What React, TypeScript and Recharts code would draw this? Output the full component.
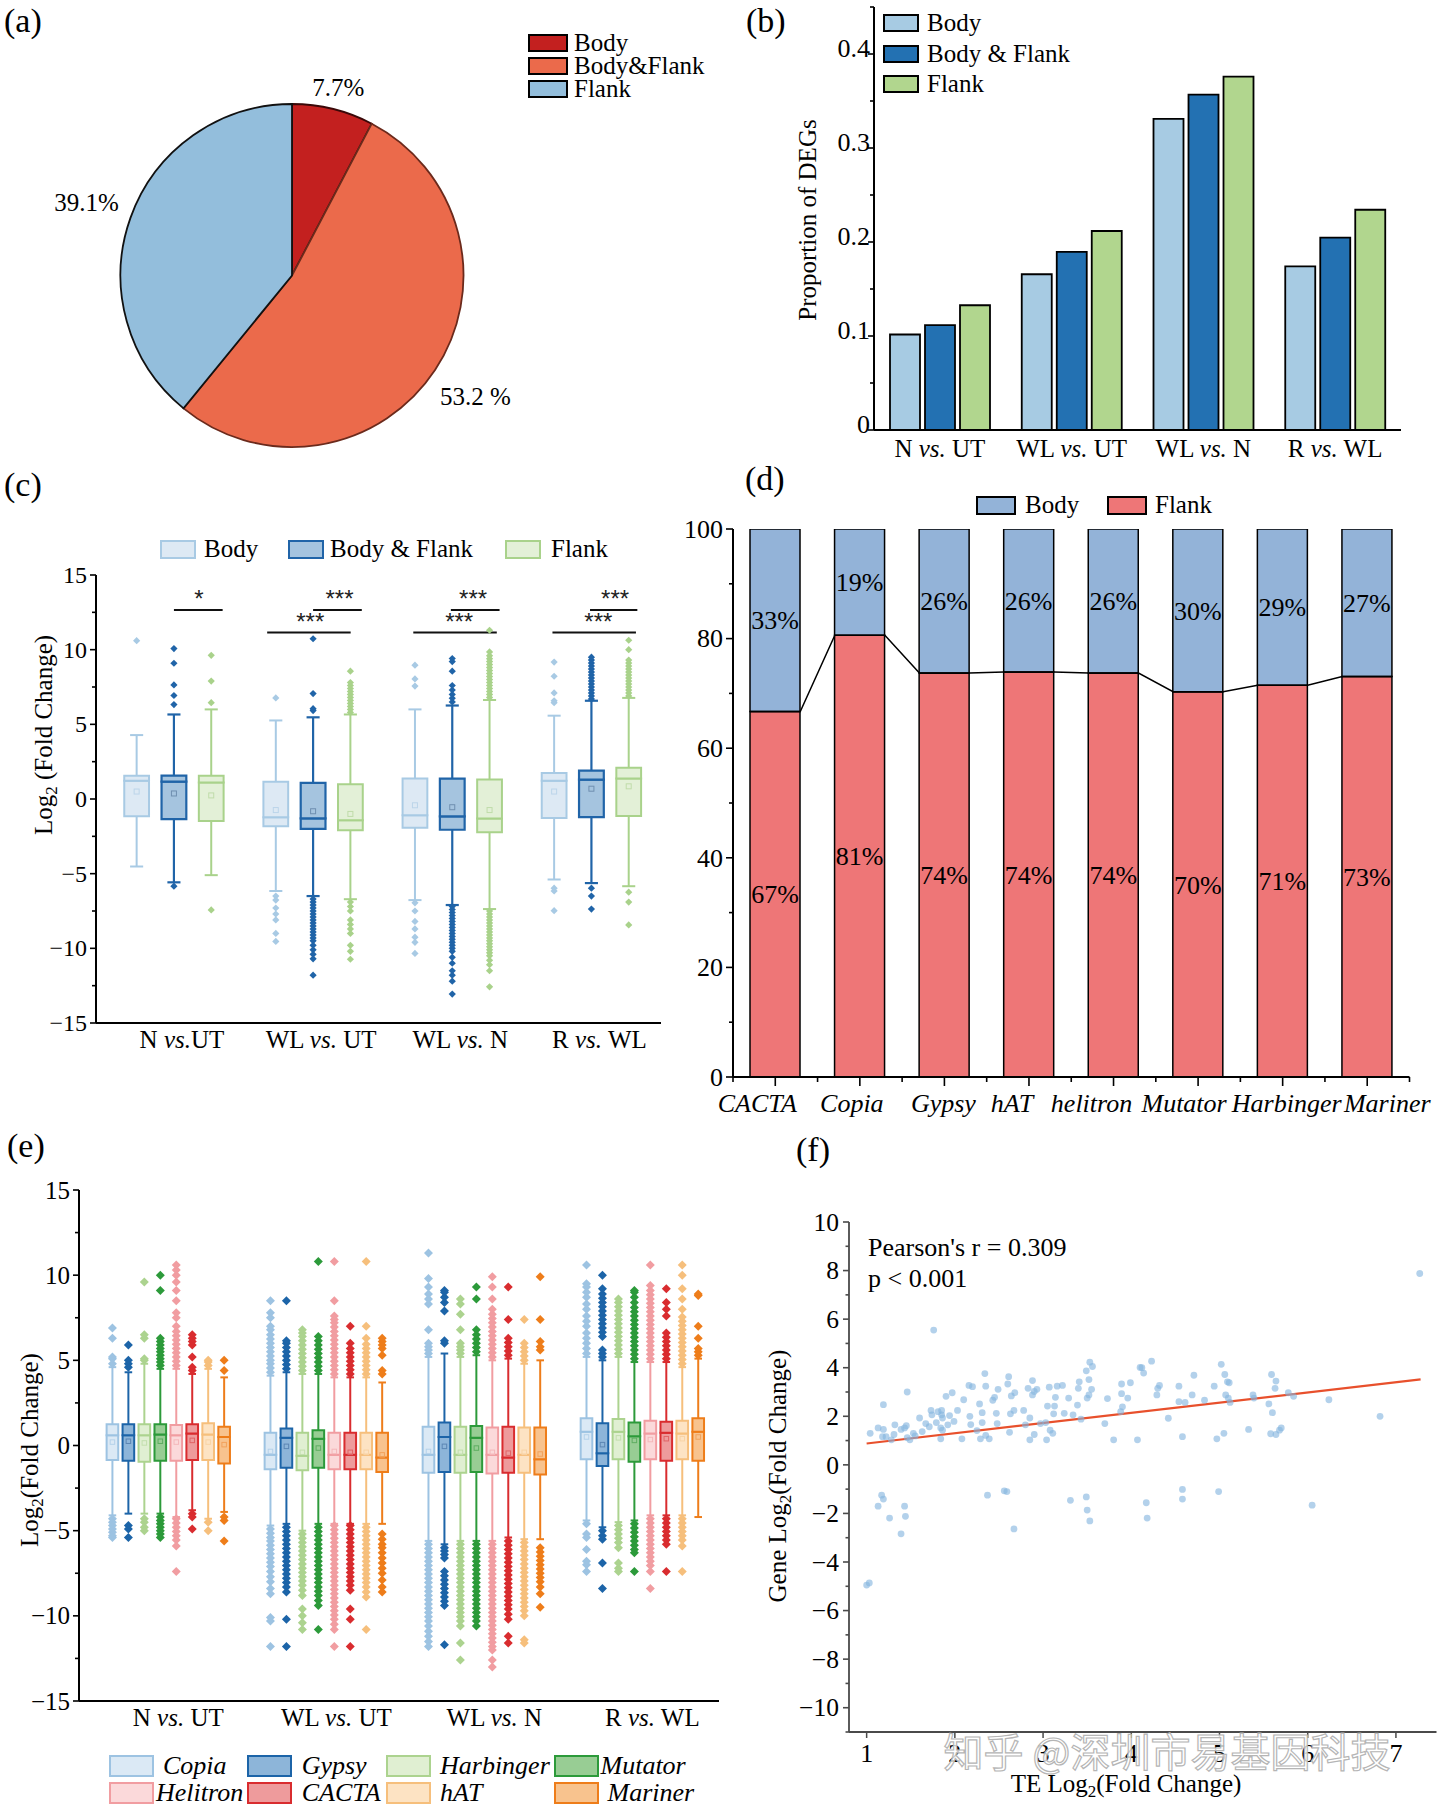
import React from 'react';
import {
  PieChart, Pie, Cell, BarChart, Bar, XAxis, YAxis, ComposedChart, Scatter,
  ReferenceArea, ReferenceLine, ReferenceDot, LabelList,
} from 'recharts';

const FONT = '"Liberation Serif", "Times New Roman", Times, serif';
const MINUS = '\u2212';
const fmtInt = (v: number) => (v < 0 ? MINUS + Math.abs(v) : String(v));

// ---------------- (a) pie ----------------
const pieNames = ['Body', 'Body&Flank', 'Flank'];
const pieValues = [7.7, 53.2, 39.1];
const pieLabels = ['7.7%', '53.2 %', '39.1%'];
const pieColors = ['#c3201f', '#eb6a4b', '#93bedc'];
const pieStrokes = ['#3a0808', '#6b2a1c', '#111111'];

// ---------------- (b) grouped bars ----------------
const bCats = ['N vs. UT', 'WL vs. UT', 'WL vs. N', 'R vs. WL'];
const bBody = [0.1016, 0.1657, 0.331, 0.174];
const bBoth = [0.1115, 0.1894, 0.3568, 0.2046];
const bFlank = [0.1327, 0.2117, 0.376, 0.2343];
const bSeries = ['Body', 'Body & Flank', 'Flank'];
const bColors = ['#a7cbe3', '#2371b2', '#b1d68e'];
const bMajor = [0, 0.1, 0.2, 0.3, 0.4];
const bTicks = [0, 0.05, 0.1, 0.15, 0.2, 0.25, 0.3, 0.35, 0.4, 0.45];

// ---------------- (c) box plots ----------------
const cGroups = ['N vs.UT', 'WL vs. UT', 'WL vs. N', 'R vs. WL'];
const cSeries = ['Body', 'Body & Flank', 'Flank'];
// [low whisker, Q1, median, Q3, high whisker, mean]
const cBodyBox = [
  [-4.52, -1.16, 1.22, 1.56, 4.28, 0.5],
  [-6.16, -1.82, -1.22, 1.16, 5.26, -0.74],
  [-6.77, -1.93, -1.08, 1.37, 6.0, -0.42],
  [-5.39, -1.27, 1.22, 1.74, 5.58, 0.5],
];
const cBothBox = [
  [-5.58, -1.35, 1.16, 1.56, 5.66, 0.37],
  [-6.5, -2.0, -1.3, 1.08, 5.47, -0.82],
  [-7.1, -2.06, -1.16, 1.37, 6.26, -0.55],
  [-5.63, -1.22, 1.3, 1.9, 6.58, 0.69],
];
const cFlankBox = [
  [-5.1, -1.48, 1.11, 1.56, 6.0, 0.24],
  [-6.71, -2.09, -1.43, 0.98, 5.66, -1.0],
  [-7.37, -2.22, -1.3, 1.3, 6.63, -0.74],
  [-5.84, -1.14, 1.37, 2.09, 6.77, 0.85],
];
const cBodyOut = [
  [10.6],
  [6.77, -6.5, -6.77, -7.3, -7.7, -8.1, -9.0, -9.54],
  [8.96, 8.04, 7.56, -6.95, -7.5, -8.2, -8.7, -9.25, -9.6, -10.34],
  [9.17, 8.22, 7.1, 6.58, 6.45, -5.97, -6.16, -7.48],
];
const cBothOut = [
  [10.07, 9.09, 7.64, 6.93, 6.32, -5.84],
  [10.73, 7.06, 6.05, 5.92, -6.7, -6.9, -7.1, -7.3, -7.5, -7.7, -7.9, -8.1, -8.3, -8.5, -8.7, -8.9, -9.1, -9.3, -9.5, -9.8, -10.1, -10.4, -10.7, -11.8],
  [6.5, 6.75, 7.0, 7.3, 7.6, 8.56, 9.2, 9.41, -7.2, -7.4, -7.6, -7.8, -8.0, -8.2, -8.4, -8.6, -8.8, -9.0, -9.2, -9.4, -9.6, -9.8, -10.0, -10.2, -10.6, -11.0, -11.5, -11.8, -12.2, -13.06],
  [6.7, 6.9, 7.1, 7.3, 7.5, 7.7, 7.9, 8.1, 8.3, 8.5, 8.7, 8.9, 9.1, 9.3, 9.5, -5.97, -6.5, -7.37],
];
const cFlankOut = [
  [9.62, 7.9, 6.45, -7.43],
  [5.8, 6.0, 6.2, 6.4, 6.6, 6.8, 7.0, 7.2, 7.4, 7.6, 7.8, 8.56, -6.9, -7.2, -7.5, -8.1, -8.4, -8.7, -9.0, -9.8, -10.2, -10.73],
  [6.8, 7.0, 7.2, 7.4, 7.6, 7.8, 8.0, 8.2, 8.4, 8.6, 8.8, 9.0, 9.2, 9.4, 9.6, 9.85, 11.3, -7.5, -7.7, -7.9, -8.1, -8.3, -8.5, -8.7, -8.9, -9.1, -9.3, -9.5, -9.7, -9.9, -10.1, -10.3, -10.5, -10.8, -11.1, -11.5, -12.58],
  [6.9, 7.1, 7.3, 7.5, 7.7, 7.9, 8.1, 8.3, 8.5, 8.7, 8.9, 9.1, 9.3, 10.0, 10.63, -6.24, -6.9, -8.43],
];
const cSigUpper = [[1.0, 1.35], [2.0, 2.35], [2.99, 3.34], [3.99, 4.33]];
const cSigLower = [[1.67, 2.27], [2.72, 3.32], [3.72, 4.32]];
const cStarUpper = [['*', 1.18], ['***', 2.19], ['***', 3.15], ['***', 4.17]];
const cStarLower = [['***', 1.98], ['***', 3.05], ['***', 4.05]];
const cYMajor = [-15, -10, -5, 0, 5, 10, 15];
const cYTicks = [-15, -12.5, -10, -7.5, -5, -2.5, 0, 2.5, 5, 7.5, 10, 12.5, 15];

// ---------------- (d) stacked percent bars ----------------
const dCats = ['CACTA', 'Copia', 'Gypsy', 'hAT', 'helitron', 'Mutator', 'Harbinger', 'Mariner'];
const dFlank = [66.7, 80.6, 73.7, 73.9, 73.7, 70.3, 71.5, 73.1];
const dBody = [33.3, 19.4, 26.3, 26.1, 26.3, 29.7, 28.5, 26.9];
const dBodyLbl = ['33%', '19%', '26%', '26%', '26%', '30%', '29%', '27%'];
const dFlankLbl = ['67%', '81%', '74%', '74%', '74%', '70%', '71%', '73%'];
const dYMajor = [0, 20, 40, 60, 80, 100];
const dYTicks = [0, 10, 20, 30, 40, 50, 60, 70, 80, 90, 100];
const dXTicks = [0, 0.5, 1, 1.5, 2, 2.5, 3, 3.5, 4, 4.5, 5, 5.5, 6, 6.5, 7, 7.5, 8];

// ---------------- (e) TE family box plots ----------------
const eGroups = ['N vs. UT', 'WL vs. UT', 'WL vs. N', 'R vs. WL'];
const eTypes = ['Copia', 'Gypsy', 'Harbinger', 'Mutator', 'Helitron', 'CACTA', 'hAT', 'Mariner'];
const eCopiaBox = [[-4.1, -0.85, 0.6, 1.25, 4.6, 0.2], [-4.7, -1.4, -0.55, 0.75, 4.1, -0.35], [-5.6, -1.6, -0.55, 1.1, 5.2, -0.35], [-4.4, -0.8, 0.8, 1.6, 5.2, 0.5]];
const eGypsyBox = [[-4.0, -0.9, 0.6, 1.25, 4.3, 0.25], [-4.6, -1.3, 0.45, 1.0, 4.3, -0.05], [-5.8, -1.55, 0.5, 1.35, 5.4, -0.05], [-4.8, -1.2, -0.45, 1.3, 5.0, 0.05]];
const eHarbBox = [[-4.0, -0.95, 0.6, 1.25, 4.8, 0.15], [-5.0, -1.45, -0.6, 0.75, 4.2, -0.4], [-5.6, -1.6, -0.55, 1.1, 5.2, -0.4], [-4.5, -0.8, 0.8, 1.55, 5.2, 0.45]];
const eMutBox = [[-4.0, -0.9, 0.65, 1.25, 4.5, 0.25], [-4.6, -1.3, 0.4, 0.9, 4.2, -0.15], [-5.6, -1.55, 0.45, 1.15, 5.3, -0.15], [-4.4, -0.95, 0.55, 1.35, 4.9, 0.3]];
const eHelBox = [[-4.2, -0.9, 0.6, 1.2, 4.5, 0.2], [-4.6, -1.4, -0.55, 0.75, 4.0, -0.35], [-5.6, -1.65, -0.55, 1.05, 5.0, -0.4], [-4.1, -0.8, 0.7, 1.45, 4.9, 0.35]];
const eCactaBox = [[-3.8, -0.85, 0.7, 1.25, 4.2, 0.3], [-4.6, -1.4, -0.55, 0.75, 4.0, -0.4], [-5.4, -1.6, -0.7, 1.1, 5.1, -0.45], [-4.1, -0.9, 0.75, 1.4, 4.9, 0.4]];
const eHatBox = [[-4.3, -0.85, 0.65, 1.3, 4.5, 0.2], [-4.6, -1.4, -0.55, 0.75, 4.0, -0.4], [-5.5, -1.6, -0.55, 1.05, 4.8, -0.4], [-4.1, -0.8, 0.7, 1.45, 4.6, 0.4]];
const eMarBox = [[-3.9, -1.05, 0.5, 1.1, 4.0, 0.05], [-4.6, -1.55, -0.7, 0.75, 3.7, -0.55], [-5.5, -1.7, -0.8, 1.05, 5.0, -0.5], [-4.2, -0.9, 0.8, 1.6, 5.1, 0.5]];
const eCopiaOut = [
  [4.8, 5.1, 5.2, 6.3, 6.9, -4.3, -4.5, -4.7, -4.9, -5.1, -5.3, -5.4],
  [4.3, 4.55, 4.8, 5.0, 5.25, 5.5, 5.75, 6.0, 6.25, 6.5, 6.8, 7.0, 7.5, 7.8, 8.5, -4.9, -5.15, -5.4, -5.6, -5.85, -6.1, -6.35, -6.6, -6.85, -7.1, -7.4, -7.7, -8.0, -8.4, -8.7, -10.1, -10.3, -11.8],
  [5.4, 5.6, 5.8, 6.0, 6.8, 8.3, 8.6, 8.9, 9.3, 9.8, 11.3, -5.8, -6.05, -6.3, -6.55, -6.8, -7.05, -7.3, -7.55, -7.8, -8.05, -8.3, -8.55, -8.8, -9.05, -9.3, -9.55, -9.8, -10.05, -10.3, -10.6, -10.9, -11.2, -11.5, -11.8],
  [5.4, 5.7, 6.0, 6.3, 6.6, 7.0, 7.3, 7.6, 8.0, 8.3, 8.7, 9.0, 9.3, 9.5, 10.6, -4.6, -5.2, -5.4, -6.1, -6.8, -7.0, -7.4],
];
const eGypsyOut = [
  [4.6, 4.8, 5.0, 5.9, -4.7, -4.9, -5.4],
  [4.5, 4.75, 5.0, 5.25, 5.5, 5.75, 6.0, 6.15, 8.5, -4.8, -5.05, -5.3, -5.55, -5.8, -6.05, -6.3, -6.55, -6.8, -7.05, -7.3, -7.55, -7.8, -8.05, -8.3, -8.6, -10.2, -11.8],
  [6.0, 6.15, 7.9, 8.4, 8.7, 9.0, 9.1, -6.0, -6.2, -6.4, -6.6, -7.4, -7.65, -7.9, -8.15, -8.4, -8.65, -8.9, -9.15, -9.4, -11.7],
  [5.2, 5.4, 5.6, 6.4, 6.65, 6.9, 7.15, 7.4, 7.65, 7.9, 8.15, 8.4, 8.65, 8.9, 9.2, 10.0, -5.0, -5.3, -5.5, -6.9, -8.4],
];
const eHarbOut = [
  [5.0, 5.1, 6.3, 6.5, 9.6, -4.3, -4.5, -4.8, -5.0],
  [4.4, 4.65, 4.9, 5.15, 5.4, 5.65, 5.9, 6.15, 6.4, 6.6, 6.8, -5.2, -5.45, -5.7, -5.95, -6.2, -6.45, -6.7, -6.95, -7.2, -7.45, -7.7, -7.95, -8.2, -8.5, -8.8, -9.6, -10.0, -10.4, -10.8],
  [5.4, 5.6, 5.8, 6.0, 6.8, 7.7, 8.3, 8.6, -5.8, -6.05, -6.3, -6.55, -6.8, -7.05, -7.3, -7.55, -7.8, -8.05, -8.3, -8.55, -8.8, -9.05, -9.3, -9.55, -9.8, -10.05, -10.3, -10.6, -11.6, -12.6],
  [5.4, 5.65, 5.9, 6.15, 6.4, 6.65, 6.9, 7.15, 7.4, 7.65, 7.9, 8.15, 8.4, 8.6, -4.7, -4.95, -5.2, -5.45, -5.7, -6.0, -6.9, -7.2, -7.4],
];
const eMutOut = [
  [4.7, 4.9, 5.1, 5.3, 5.5, 5.7, 5.9, 6.1, 6.3, 9.1, 10.0, -4.2, -4.4, -4.6, -4.8, -5.0, -5.2, -5.4],
  [4.4, 4.65, 4.9, 5.15, 5.4, 5.65, 5.9, 6.15, 6.4, 10.8, -4.8, -5.05, -5.3, -5.55, -5.8, -6.05, -6.3, -6.55, -6.8, -7.05, -7.3, -7.55, -7.8, -8.05, -8.3, -8.55, -8.8, -9.1, -9.4, -10.8],
  [5.5, 5.75, 6.0, 6.25, 6.5, 6.8, 8.6, 9.3, -5.8, -6.05, -6.3, -6.55, -6.8, -7.05, -7.3, -7.55, -7.8, -8.05, -8.3, -8.55, -8.8, -9.05, -9.3, -9.55, -9.8, -10.05, -10.3, -10.6],
  [5.1, 5.35, 5.6, 5.85, 6.1, 6.35, 6.6, 6.85, 7.1, 7.35, 7.6, 7.85, 8.1, 8.4, 8.7, 9.0, 9.1, -4.6, -4.85, -5.1, -5.35, -5.6, -5.85, -6.1, -6.3, -7.4],
];
const eHelOut = [
  [4.7, 4.95, 5.2, 5.45, 5.7, 5.95, 6.2, 6.45, 6.7, 7.0, 7.5, 7.8, 8.5, 9.1, 9.6, 10.0, 10.3, 10.6, -4.3, -4.55, -4.8, -5.05, -5.3, -5.55, -5.9, -7.4],
  [4.2, 4.45, 4.7, 4.95, 5.2, 5.45, 5.7, 5.95, 6.2, 6.45, 6.7, 6.95, 7.2, 7.4, 7.6, 8.5, 10.8, -4.7, -4.95, -5.2, -5.45, -5.7, -5.95, -6.2, -6.45, -6.7, -6.95, -7.2, -7.45, -7.7, -7.95, -8.2, -8.45, -8.7, -8.95, -9.2, -9.45, -9.7, -9.95, -10.2, -10.5, -10.8, -11.8],
  [5.2, 5.45, 5.7, 5.95, 6.2, 6.45, 6.7, 6.95, 7.2, 7.45, 7.7, 8.0, 8.6, 9.3, 9.9, -5.8, -6.05, -6.3, -6.55, -6.8, -7.05, -7.3, -7.55, -7.8, -8.05, -8.3, -8.55, -8.8, -9.05, -9.3, -9.55, -9.8, -10.05, -10.3, -10.55, -10.8, -11.05, -11.3, -11.55, -11.8, -12.0, -12.6, -13.0],
  [5.1, 5.35, 5.6, 5.85, 6.1, 6.35, 6.6, 6.85, 7.1, 7.35, 7.6, 7.85, 8.1, 8.35, 8.6, 8.85, 9.1, 9.4, 10.6, -4.3, -4.55, -4.8, -5.05, -5.3, -5.55, -5.8, -6.05, -6.3, -6.55, -6.8, -7.05, -7.4, -8.4],
];
const eCactaOut = [
  [4.4, 4.6, 5.2, 5.9, 6.1, 6.3, 6.5, -4.0, -4.2, -4.9],
  [4.2, 4.45, 4.7, 4.95, 5.2, 5.45, 5.7, 6.0, 7.0, -4.7, -4.95, -5.2, -5.45, -5.7, -5.95, -6.2, -6.45, -6.7, -6.95, -7.2, -7.45, -7.7, -7.95, -8.2, -8.5, -9.6, -10.2, -11.8],
  [5.3, 5.55, 5.8, 6.05, 6.3, 7.4, 9.3, -5.6, -5.85, -6.1, -6.35, -6.6, -6.85, -7.1, -7.35, -7.6, -7.85, -8.1, -8.35, -8.6, -8.85, -9.1, -9.35, -9.6, -9.9, -10.2, -11.2, -11.6],
  [5.1, 5.35, 5.6, 5.85, 6.1, 6.35, 6.6, 7.6, 8.0, 8.4, 9.2, -4.3, -4.55, -4.8, -5.05, -5.3, -5.55, -5.8, -7.4],
];
const eHatOut = [
  [4.7, 4.9, 5.0, -4.5, -5.0],
  [4.2, 4.45, 4.7, 4.95, 5.2, 5.45, 5.7, 5.95, 6.3, 7.0, 10.8, -4.8, -5.05, -5.3, -5.55, -5.8, -6.05, -6.3, -6.55, -6.8, -7.05, -7.3, -7.55, -7.8, -8.05, -8.3, -8.6, -8.9, -10.8],
  [5.0, 5.25, 5.5, 5.75, 6.0, 7.4, -5.7, -5.95, -6.2, -6.45, -6.7, -6.95, -7.2, -7.45, -7.7, -7.95, -8.2, -8.45, -8.7, -8.95, -9.2, -9.45, -9.7, -10.0, -11.4, -11.6],
  [4.8, 5.05, 5.3, 5.55, 5.8, 6.05, 6.3, 6.55, 6.8, 7.05, 7.3, 7.55, 8.0, 8.6, 9.2, 10.0, 10.6, -4.3, -4.55, -4.8, -5.05, -5.3, -5.55, -5.9, -7.4],
];
const eMarOut = [
  [4.4, 5.0, -4.2, -4.4, -5.6],
  [4.2, 4.4, 5.3, 5.7, 5.9, 6.1, 6.3, -5.2, -5.5, -5.8, -6.0, -6.3, -6.6, -6.9, -7.2, -7.5, -7.9, -8.3, -8.6],
  [5.6, 5.8, 6.1, 7.4, 9.9, -6.0, -6.25, -6.5, -6.75, -7.0, -7.25, -7.5, -7.75, -8.0, -8.3, -8.7, -9.5],
  [5.3, 5.5, 5.7, 6.3, 7.0, 8.8, 8.9],
];
const eYMajor = [-15, -10, -5, 0, 5, 10, 15];
const eYTicks = [-15, -12.5, -10, -7.5, -5, -2.5, 0, 2.5, 5, 7.5, 10, 12.5, 15];

// ---------------- (f) scatter ----------------
const fPoints = [
  [1.0, -4.95], [1.03, -4.86], [1.04, 1.3], [1.13, 1.52], [1.19, 1.46], [1.19, 2.48], [1.18, 1.16], [1.22, 1.16],
  [1.17, -1.25], [1.19, -1.41], [1.13, -1.7], [1.26, -2.19], [1.39, -2.84], [1.43, -1.7], [1.44, -2.12], [1.28, 1.03],
  [1.31, 1.25], [1.32, 1.65], [1.39, 1.46], [1.43, 1.52], [1.45, 1.61], [1.46, 3.0], [1.46, 1.12], [1.49, 1.03],
  [1.53, 1.3], [1.55, 1.19], [1.6, 1.93], [1.63, 1.37], [1.67, 1.7], [1.71, 1.57], [1.73, 2.24], [1.74, 2.06],
  [1.76, 5.55], [1.79, 1.74], [1.81, 2.19], [1.84, 1.52], [1.84, 1.07], [1.85, 2.24], [1.85, 2.06], [1.86, 1.43],
  [1.86, 1.93], [1.9, 2.82], [1.92, 1.65], [1.94, 2.03], [1.97, 2.97], [1.99, 1.79], [2.03, 2.24], [2.08, 1.07],
  [2.1, 2.68], [2.16, 3.27], [2.17, 2.0], [2.18, 1.66], [2.2, 3.22], [2.25, 1.41], [2.28, 2.51], [2.29, 1.07],
  [2.31, 2.15], [2.31, 1.74], [2.34, 3.76], [2.35, 3.24], [2.35, 1.21], [2.37, -1.25], [2.39, 1.07], [2.43, 2.66],
  [2.45, 2.78], [2.47, 2.12], [2.48, 1.7], [2.49, 3.11], [2.56, -1.07], [2.59, -1.1], [2.6, 3.33], [2.61, 3.63],
  [2.62, 1.34], [2.63, 2.1], [2.64, 2.84], [2.67, 2.24], [2.67, -2.64], [2.68, 2.97], [2.78, 2.24], [2.8, 1.65],
  [2.83, 3.15], [2.85, 1.93], [2.85, 1.03], [2.88, 3.47], [2.88, 2.88], [2.9, 3.02], [2.9, 1.25], [2.93, 3.11],
  [2.97, 1.7], [3.03, 1.74], [3.04, 1.03], [3.05, 2.42], [3.07, 3.2], [3.08, 1.43], [3.11, 1.3], [3.12, 2.1],
  [3.13, 2.42], [3.14, 2.78], [3.16, 3.24], [3.22, 3.27], [3.24, 2.12], [3.29, 2.75], [3.31, -1.46], [3.34, 2.06],
  [3.39, 2.46], [3.4, 3.15], [3.41, 3.42], [3.43, 1.88], [3.49, -1.32], [3.49, 3.87], [3.5, 2.75], [3.5, -1.86],
  [3.52, 3.51], [3.53, -2.31], [3.53, 4.23], [3.55, 3.11], [3.56, 4.05], [3.52, 2.88], [3.7, 1.7], [3.73, 2.73],
  [3.8, 1.03], [3.88, 2.19], [3.89, 3.33], [3.89, 2.93], [3.9, 2.39], [3.96, 2.75], [3.99, 3.38], [4.07, 1.03],
  [4.1, 4.01], [4.12, 4.0], [4.14, 3.78], [4.17, -1.56], [4.18, -2.19], [4.23, 4.27], [4.29, 2.88], [4.3, 3.15],
  [4.32, 3.27], [4.42, 1.92], [4.54, 3.24], [4.54, 2.6], [4.58, 1.16], [4.58, -1.01], [4.58, -1.41], [4.61, 2.57],
  [4.69, 2.88], [4.71, 3.69], [4.83, 2.66], [4.94, 3.24], [4.97, 1.07], [4.99, -1.1], [5.02, 4.14], [5.05, 1.3],
  [5.06, 3.72], [5.07, 2.88], [5.09, 3.42], [5.1, 2.75], [5.11, 3.38], [5.12, 2.57], [5.33, 1.46], [5.38, 2.88],
  [5.39, 2.75], [5.56, 2.51], [5.58, 1.28], [5.59, 3.72], [5.6, 2.15], [5.63, 3.15], [5.64, 3.45], [5.64, 1.25],
  [5.68, 1.43], [5.7, 1.52], [5.78, 2.97], [5.84, 2.82], [6.05, -1.66], [6.24, 2.68], [6.82, 2.0], [7.27, 7.88],
];
const fFit = [[1.0, 0.88], [7.28, 3.52]];
const fYMajor = [-10, -8, -6, -4, -2, 0, 2, 4, 6, 8, 10];
const fYTicks = [-11, -10, -9, -8, -7, -6, -5, -4, -3, -2, -1, 0, 1, 2, 3, 4, 5, 6, 7, 8, 9, 10];
const fXTicks = [1, 2, 3, 4, 5, 6, 7];

// ---------------- helpers ----------------
type BoxStyle = { stroke: string; fill: string; dot: string };

function yTick(o: { majors: number[]; fmt: (v: number) => string; fs: number; len: number; mlen: number; gap: number; lift?: number; color?: string }) {
  return (p: any) => {
    const v = Number(p.payload.value);
    const major = o.majors.some((m) => Math.abs(m - v) < 1e-6);
    const c = o.color || '#000';
    return (
      <g>
        <line x1={p.x} x2={p.x - (major ? o.len : o.mlen)} y1={p.y} y2={p.y} stroke={c} strokeWidth={1.6} />
        {major && (
          <text x={p.x - o.gap} y={p.y - (o.lift || 0)} dy="0.34em" textAnchor="end" fontSize={o.fs} fill="#000" fontFamily={FONT}>
            {o.fmt(v)}
          </text>
        )}
      </g>
    );
  };
}

function VsText(props: { x: number; y: number; label: string; fs: number }) {
  const parts = props.label.split('vs.');
  return (
    <text x={props.x} y={props.y} textAnchor="middle" fontSize={props.fs} fill="#000" fontFamily={FONT} style={{ whiteSpace: 'pre' }}>
      {parts[0]}
      <tspan fontStyle="italic">vs.</tspan>
      {parts[1]}
    </text>
  );
}

function boxPlotElements(id: string, boxes: number[][], offset: number, halfW: number, capHalf: number, st: BoxStyle, sw: number, meanSide: number) {
  const out: React.ReactNode[] = [];
  boxes.forEach((b, g) => {
    const [lo, q1, med, q3, hi, mean] = b;
    const cx = g + 1 + offset;
    const k = `${id}-${g}`;
    out.push(<ReferenceLine key={k + 'wu'} segment={[{ x: cx, y: q3 }, { x: cx, y: hi }]} stroke={st.stroke} strokeWidth={sw} />);
    out.push(<ReferenceLine key={k + 'wl'} segment={[{ x: cx, y: lo }, { x: cx, y: q1 }]} stroke={st.stroke} strokeWidth={sw} />);
    out.push(<ReferenceLine key={k + 'cu'} segment={[{ x: cx - capHalf, y: hi }, { x: cx + capHalf, y: hi }]} stroke={st.stroke} strokeWidth={sw} />);
    out.push(<ReferenceLine key={k + 'cl'} segment={[{ x: cx - capHalf, y: lo }, { x: cx + capHalf, y: lo }]} stroke={st.stroke} strokeWidth={sw} />);
    out.push(<ReferenceArea key={k + 'b1'} x1={cx - halfW} x2={cx + halfW} y1={q1} y2={med} fill={st.fill} fillOpacity={1} stroke={st.stroke} strokeWidth={sw} />);
    out.push(<ReferenceArea key={k + 'b2'} x1={cx - halfW} x2={cx + halfW} y1={med} y2={q3} fill={st.fill} fillOpacity={1} stroke={st.stroke} strokeWidth={sw} />);
    out.push(
      <ReferenceDot
        key={k + 'm'}
        x={cx}
        y={mean}
        r={meanSide / 2}
        shape={(p: any) => (
          <rect x={p.cx - meanSide / 2} y={p.cy - meanSide / 2} width={meanSide} height={meanSide} fill="none" stroke={st.dot} strokeWidth={1} />
        )}
      />
    );
  });
  return out;
}

function outlierPoints(outs: number[][], offset: number) {
  return outs.flatMap((arr, g) => arr.map((y) => ({ x: g + 1 + offset, y })));
}

const diamond = (color: string, s: number) => (p: any) => (
  <path d={`M${p.cx},${p.cy - s}L${p.cx + s},${p.cy}L${p.cx},${p.cy + s}L${p.cx - s},${p.cy}Z`} fill={color} />
);

function Swatch(p: { left: number; cy: number; w: number; h: number; fill: string; stroke: string; bw: number }) {
  return (
    <div
      style={{
        position: 'absolute', left: p.left, top: p.cy - p.h / 2, width: p.w, height: p.h, boxSizing: 'border-box',
        background: p.fill, border: `${p.bw}px solid ${p.stroke}`,
      }}
    />
  );
}
function LText(p: { left: number; cy: number; text: string; fs: number; italic?: boolean }) {
  return (
    <div
      style={{
        position: 'absolute', left: p.left, top: p.cy - p.fs * 0.6, fontSize: p.fs, lineHeight: `${p.fs * 1.2}px`,
        fontStyle: p.italic ? 'italic' : 'normal', whiteSpace: 'nowrap', color: '#000', fontFamily: FONT,
      }}
    >
      {p.text}
    </div>
  );
}

// ---------------- panels ----------------
function PanelA() {
  const data = pieNames.map((n, i) => ({ name: n, value: pieValues[i] }));
  const renderLabel = (p: any) => {
    const RAD = Math.PI / 180;
    const txt = pieLabels[p.index];
    const halfW = txt.length * 6.5;
    const r = p.outerRadius + 16 + halfW * Math.abs(Math.cos(p.midAngle * RAD));
    const x = p.cx + r * Math.cos(-p.midAngle * RAD);
    const y = p.cy + r * Math.sin(-p.midAngle * RAD);
    return (
      <text x={x} y={y} dy="0.34em" textAnchor="middle" fontSize={25} fill="#000" fontFamily={FONT} style={{ whiteSpace: 'pre' }}>
        {txt}
      </text>
    );
  };
  return (
    <div style={{ position: 'absolute', left: 0, top: 0 }}>
      <PieChart width={720} height={460}>
        <Pie data={data} dataKey="value" cx={287} cy={270.5} outerRadius={171.5} startAngle={90} endAngle={-270}
          isAnimationActive={false} labelLine={false} label={renderLabel}>
          {data.map((d, i) => (
            <Cell key={d.name} fill={pieColors[i]} stroke={pieStrokes[i]} strokeWidth={1.8} />
          ))}
        </Pie>
      </PieChart>
      {pieNames.map((n, i) => (
        <React.Fragment key={n}>
          <Swatch left={528} cy={43 + i * 23} w={40} h={18} fill={pieColors[i]} stroke="#000" bw={2} />
          <LText left={574} cy={43 + i * 23} text={n} fs={25} />
        </React.Fragment>
      ))}
    </div>
  );
}

function PanelB() {
  const data = bCats.map((c, i) => ({ name: c, body: bBody[i], both: bBoth[i], flank: bFlank[i] }));
  const xTick = (p: any) => <VsText x={p.x} y={p.y + 27} label={String(p.payload.value)} fs={25} />;
  const yT = yTick({ majors: bMajor, fmt: (v) => (v === 0 ? '0' : v.toFixed(1)), fs: 26, len: 6, mlen: 4, gap: 4, lift: 6 });
  const ax = { stroke: '#000', strokeWidth: 2 };
  return (
    <div style={{ position: 'absolute', left: 760, top: 0 }}>
      <BarChart width={680} height={480} data={data} margin={{ top: 7, right: 39, bottom: 10, left: 14 }} barSize={30} barGap={5}>
        <XAxis dataKey="name" height={40} tickLine={false} tickSize={0} tickMargin={0} axisLine={ax} tick={xTick} interval={0} />
        <XAxis xAxisId="top" dataKey="name" orientation="top" height={0} tick={false} tickLine={false} axisLine={ax} />
        <YAxis type="number" domain={[0, 0.45]} allowDataOverflow ticks={bTicks} width={100} tickLine={false} tickSize={0} tickMargin={0} axisLine={ax} tick={yT} interval={0} />
        <YAxis yAxisId="r" orientation="right" width={0} tick={false} tickLine={false} axisLine={ax} />
        <Bar dataKey="body" fill={bColors[0]} stroke="#000" strokeWidth={1.8} isAnimationActive={false} />
        <Bar dataKey="both" fill={bColors[1]} stroke="#000" strokeWidth={1.8} isAnimationActive={false} />
        <Bar dataKey="flank" fill={bColors[2]} stroke="#000" strokeWidth={1.8} isAnimationActive={false} />
      </BarChart>
      {bSeries.map((n, i) => (
        <React.Fragment key={n}>
          <Swatch left={123} cy={23 + i * 30.5} w={36} h={18} fill={bColors[i]} stroke="#000" bw={2} />
          <LText left={167} cy={23 + i * 30.5} text={n} fs={25} />
        </React.Fragment>
      ))}
    </div>
  );
}

const cStyles: BoxStyle[] = [
  { stroke: '#a8cae4', fill: '#dde9f4', dot: '#bcd5ea' },
  { stroke: '#2064a8', fill: '#a5c4df', dot: '#6f8fb0' },
  { stroke: '#a9d28b', fill: '#e3f0d7', dot: '#c0dcaa' },
];
const cOffsets = [-0.268, 0, 0.268];

function PanelC() {
  const boxes = [cBodyBox, cBothBox, cFlankBox];
  const outs = [cBodyOut, cBothOut, cFlankOut];
  const ax = { stroke: '#000', strokeWidth: 2 };
  const xTick = (p: any) => <VsText x={p.x + 8} y={p.y + 24.5} label={cGroups[Number(p.payload.value) - 1]} fs={25} />;
  const starShape = (txt: string) => (p: any) => (
    <text x={p.cx} y={p.cy} textAnchor="middle" fontSize={24} fontFamily='"Liberation Sans", Arial, sans-serif' fill="#222">{txt}</text>
  );
  return (
    <div style={{ position: 'absolute', left: 0, top: 560 }}>
      <ComposedChart width={700} height={520} margin={{ top: 15, right: 39, bottom: 17, left: 16 }}>
        <XAxis type="number" dataKey="x" domain={[0.44, 4.5]} allowDataOverflow ticks={[1, 2, 3, 4]} interval={0} height={40}
          tickLine={false} tickSize={0} tickMargin={0} axisLine={ax} tick={xTick} />
        <XAxis xAxisId="top" type="number" orientation="top" domain={[0, 1]} height={0} tick={false} tickLine={false} axisLine={ax} />
        <YAxis type="number" dataKey="y" domain={[-15, 15]} allowDataOverflow ticks={cYTicks} interval={0} width={80}
          tickLine={false} tickSize={0} tickMargin={0} axisLine={ax}
          tick={yTick({ majors: cYMajor, fmt: fmtInt, fs: 24, len: 6, mlen: 4, gap: 9 })} />
        <YAxis yAxisId="r" type="number" orientation="right" domain={[0, 1]} width={0} tick={false} tickLine={false} axisLine={ax} />
        {boxes.map((bx, s) => boxPlotElements('c' + s, bx, cOffsets[s], 0.089, 0.047, cStyles[s], s === 1 ? 2.2 : 2, 5))}
        {outs.map((o, s) => (
          <Scatter key={'co' + s} data={outlierPoints(o, cOffsets[s])} dataKey="y" shape={diamond(cStyles[s].stroke, 3.6)} isAnimationActive={false} />
        ))}
        {cSigUpper.map((seg, i) => (
          <ReferenceLine key={'su' + i} segment={[{ x: seg[0], y: 12.66 }, { x: seg[1], y: 12.66 }]} stroke="#111" strokeWidth={2} />
        ))}
        {cSigLower.map((seg, i) => (
          <ReferenceLine key={'sl' + i} segment={[{ x: seg[0], y: 11.15 }, { x: seg[1], y: 11.15 }]} stroke="#111" strokeWidth={2} />
        ))}
        {cStarUpper.map((s, i) => (
          <ReferenceDot key={'tu' + i} x={s[1] as number} y={12.85} r={1} shape={starShape(s[0] as string)} />
        ))}
        {cStarLower.map((s, i) => (
          <ReferenceDot key={'tl' + i} x={s[1] as number} y={11.35} r={1} shape={starShape(s[0] as string)} />
        ))}
      </ComposedChart>
      {cSeries.map((n, i) => (
        <React.Fragment key={n}>
          <Swatch left={[160, 288, 505][i]} cy={549 - 560} w={36} h={19} fill={cStyles[i].fill} stroke={cStyles[i].stroke} bw={2} />
          <LText left={[204, 330, 551][i]} cy={549 - 560} text={n} fs={25} />
        </React.Fragment>
      ))}
    </div>
  );
}

// horizontal nudges of the category labels of panel (d), as typeset in the figure
const dLabelDx = [-18, -8, -1, -17, -22, -14, 4, 20];

function PanelD() {
  const data = dCats.map((c, i) => ({ name: c, flank: dFlank[i], body: dBody[i], flankLbl: dFlankLbl[i], bodyLbl: dBodyLbl[i] }));
  const plotW = 1409.5 - 733;
  const hw = 25 / (plotW / dCats.length);
  const linePts = dFlank.flatMap((v, i) => [{ lx: i + 0.5 - hw, y: v }, { lx: i + 0.5 + hw, y: v }]);
  const ax = { stroke: '#000', strokeWidth: 2 };
  const xTick = (p: any) => {
    const v = Number(p.payload.value);
    const major = Math.round(v * 2) % 2 === 1;
    const idx = Math.floor(v);
    return (
      <g>
        <line x1={p.x} x2={p.x} y1={p.y} y2={p.y + (major ? 9 : 5)} stroke="#000" strokeWidth={1.6} />
        {major && (
          <text x={p.x + dLabelDx[idx]} y={p.y + 26} dy="0.34em" textAnchor="middle" fontSize={26} fontStyle="italic" fill="#000" fontFamily={FONT}>
            {dCats[idx]}
          </text>
        )}
      </g>
    );
  };
  return (
    <div style={{ position: 'absolute', left: 660, top: 490 }}>
      <ComposedChart width={780} height={650} data={data} margin={{ top: 39, right: 30.5, bottom: 18, left: 0 }}>
        <XAxis dataKey="name" hide height={0} />
        <XAxis xAxisId="n" dataKey="lx" type="number" domain={[0, 8]} allowDataOverflow ticks={dXTicks} interval={0} height={45}
          tickLine={false} tickSize={0} tickMargin={0} axisLine={ax} tick={xTick} />
        <YAxis type="number" domain={[0, 100]} allowDataOverflow ticks={dYTicks} interval={0} width={73}
          tickLine={false} tickSize={0} tickMargin={0} axisLine={ax}
          tick={yTick({ majors: dYMajor, fmt: fmtInt, fs: 26, len: 7, mlen: 4, gap: 10 })} />
        <Bar dataKey="flank" stackId="s" fill="#ee7677" stroke="#000" strokeWidth={1.5} barSize={50} isAnimationActive={false}>
          <LabelList dataKey="flankLbl" position="center" fill="#000" fontSize={26} fontFamily={FONT} />
        </Bar>
        <Bar dataKey="body" stackId="s" fill="#93b3d8" stroke="#000" strokeWidth={1.5} barSize={50} isAnimationActive={false}>
          <LabelList dataKey="bodyLbl" position="center" fill="#000" fontSize={26} fontFamily={FONT} />
        </Bar>
        <Scatter xAxisId="n" data={linePts} dataKey="y" line={{ stroke: '#000', strokeWidth: 1.5 }} shape={() => <g />} isAnimationActive={false} />
      </ComposedChart>
      <Swatch left={976 - 660} cy={505 - 490} w={40} h={19} fill="#93b3d8" stroke="#000" bw={2} />
      <LText left={1025 - 660} cy={505 - 490} text="Body" fs={25} />
      <Swatch left={1107 - 660} cy={505 - 490} w={40} h={19} fill="#ee7677" stroke="#000" bw={2} />
      <LText left={1155 - 660} cy={505 - 490} text="Flank" fs={25} />
    </div>
  );
}

const eStyles: BoxStyle[] = [
  { stroke: '#9dc3e2', fill: '#dbe9f5', dot: '#b5d2ea' },
  { stroke: '#1c64a8', fill: '#8db5d9', dot: '#5c86b4' },
  { stroke: '#acd38f', fill: '#e0efd2', dot: '#c3dfae' },
  { stroke: '#2c9a3a', fill: '#98cd94', dot: '#5fae62' },
  { stroke: '#f19da1', fill: '#fbd9da', dot: '#f4b8bb' },
  { stroke: '#d92c2f', fill: '#ee9b9c', dot: '#e06466' },
  { stroke: '#f6bf7c', fill: '#fde3c3', dot: '#f8d3a5' },
  { stroke: '#ee7d1a', fill: '#f8c38e', dot: '#f2a25c' },
];
const eOffsets = [-0.3535, -0.2525, -0.1515, -0.0505, 0.0505, 0.1515, 0.2525, 0.3535];

function PanelE() {
  const boxes = [eCopiaBox, eGypsyBox, eHarbBox, eMutBox, eHelBox, eCactaBox, eHatBox, eMarBox];
  const outs = [eCopiaOut, eGypsyOut, eHarbOut, eMutOut, eHelOut, eCactaOut, eHatOut, eMarOut];
  const ax = { stroke: '#000', strokeWidth: 2 };
  const xTick = (p: any) => <VsText x={p.x + 10} y={p.y + 25} label={eGroups[Number(p.payload.value) - 1]} fs={25} />;
  const swX = [108.5, 246.7, 386, 554];
  const txX = [[163, 301.7, 440, 600.5], [156, 301.7, 440, 607.5]];
  return (
    <div style={{ position: 'absolute', left: 0, top: 1170 }}>
      <ComposedChart width={740} height={580} margin={{ top: 20, right: 21, bottom: 9, left: 9 }}>
        <XAxis type="number" dataKey="x" domain={[0.435, 4.485]} allowDataOverflow ticks={[1, 2, 3, 4]} interval={0} height={40}
          tickLine={false} tickSize={0} tickMargin={0} axisLine={ax} tick={xTick} />
        <XAxis xAxisId="top" type="number" orientation="top" domain={[0, 1]} height={0} tick={false} tickLine={false} axisLine={ax} />
        <YAxis type="number" dataKey="y" domain={[-15, 15]} allowDataOverflow ticks={eYTicks} interval={0} width={70}
          tickLine={false} tickSize={0} tickMargin={0} axisLine={ax}
          tick={yTick({ majors: eYMajor, fmt: fmtInt, fs: 25, len: 6, mlen: 4, gap: 9 })} />
        <YAxis yAxisId="r" type="number" orientation="right" domain={[0, 1]} width={0} tick={false} tickLine={false} axisLine={ax} />
        {boxes.map((bx, s) => boxPlotElements('e' + s, bx, eOffsets[s], 0.0368, 0.024, eStyles[s], 2, 4.5))}
        {outs.map((o, s) => (
          <Scatter key={'eo' + s} data={outlierPoints(o, eOffsets[s])} dataKey="y" shape={diamond(eStyles[s].stroke, 4.5)} isAnimationActive={false} />
        ))}
      </ComposedChart>
      {eTypes.map((n, i) => {
        const row = Math.floor(i / 4);
        const col = i % 4;
        const cy = (row === 0 ? 1766 : 1792.5) - 1170;
        return (
          <React.Fragment key={n}>
            <Swatch left={swX[col]} cy={cy} w={45} h={22} fill={eStyles[i].fill} stroke={eStyles[i].stroke} bw={2.2} />
            <LText left={txX[row][col]} cy={cy} text={n} fs={26} italic />
          </React.Fragment>
        );
      })}
    </div>
  );
}

function PanelF() {
  const data = fPoints.map((p) => ({ x: p[0], y: p[1] }));
  const ax = { stroke: '#4a4a4a', strokeWidth: 1.8 };
  const xTick = (p: any) => (
    <g>
      <line x1={p.x} x2={p.x} y1={p.y} y2={p.y + 6} stroke="#4a4a4a" strokeWidth={1.5} />
      <text x={p.x} y={p.y + 21} dy="0.34em" textAnchor="middle" fontSize={26} fill="#000" fontFamily={FONT}>{p.payload.value}</text>
    </g>
  );
  return (
    <div style={{ position: 'absolute', left: 740, top: 1190 }}>
      <ComposedChart width={700} height={619} margin={{ top: 32, right: 3.5, bottom: 37, left: 9 }}>
        <XAxis type="number" dataKey="x" domain={[0.8, 7.46]} allowDataOverflow ticks={fXTicks} interval={0} height={40}
          tickLine={false} tickSize={0} tickMargin={0} axisLine={ax} tick={xTick} />
        <XAxis xAxisId="top" type="number" orientation="top" domain={[0, 1]} height={0} tick={false} tickLine={false} axisLine={ax} />
        <YAxis type="number" dataKey="y" domain={[-11, 10]} allowDataOverflow ticks={fYTicks} interval={0} width={100}
          tickLine={false} tickSize={0} tickMargin={0} axisLine={ax}
          tick={yTick({ majors: fYMajor, fmt: fmtInt, fs: 25.5, len: 6, mlen: 3.5, gap: 10, color: '#4a4a4a' })} />
        <YAxis yAxisId="r" type="number" orientation="right" domain={[0, 1]} width={0} tick={false} tickLine={false} axisLine={ax} />
        <Scatter data={data} dataKey="y" isAnimationActive={false}
          shape={(p: any) => <circle cx={p.cx} cy={p.cy} r={3.4} fill="#84b5df" fillOpacity={0.62} />} />
        <ReferenceLine segment={[{ x: fFit[0][0], y: fFit[0][1] }, { x: fFit[1][0], y: fFit[1][1] }]} stroke="#e8502c" strokeWidth={2.2} />
      </ComposedChart>
    </div>
  );
}

function Overlay() {
  const letter = (t: string, x: number, y: number) => (
    <text x={x} y={y} fontSize={34} fill="#000" fontFamily={FONT}>{t}</text>
  );
  const rot = (x: number, y: number, children: React.ReactNode) => (
    <text x={x} y={y} dy="0.34em" transform={`rotate(-90 ${x} ${y})`} textAnchor="middle" fontSize={25} fill="#000" fontFamily={FONT} style={{ whiteSpace: 'pre' }}>
      {children}
    </text>
  );
  const sub = (gap: string) => (
    <>
      Log<tspan fontSize={17} dy={5}>2</tspan><tspan dy={-5}>{gap}(Fold Change)</tspan>
    </>
  );
  return (
    <svg width={1440} height={1809} style={{ position: 'absolute', left: 0, top: 0, pointerEvents: 'none' }}>
      {letter('(a)', 4, 32)}
      {letter('(b)', 746, 32)}
      {letter('(c)', 4, 496)}
      {letter('(d)', 745, 490)}
      {letter('(e)', 7, 1157)}
      {letter('(f)', 796, 1161)}
      {rot(807, 220, 'Proportion of DEGs')}
      {rot(43, 735, sub(' '))}
      {rot(29, 1450, sub(''))}
      {rot(777.5, 1476, <>Gene {sub('')}</>)}
      <text x={1126} y={1783} dy="0.34em" textAnchor="middle" fontSize={25} fill="#000" fontFamily={FONT}>TE {sub('')}</text>
      <text x={868} y={1247} dy="0.34em" fontSize={26} fill="#000" fontFamily={FONT}>Pearson's r = 0.309</text>
      <text x={868} y={1278} dy="0.34em" fontSize={26} fill="#000" fontFamily={FONT}>p &lt; 0.001</text>
      <text x={1167} y={1753} dy="0.36em" textAnchor="middle" fontSize={40} fontFamily='"Noto Sans CJK SC", sans-serif'
        fill="rgba(255,255,255,0.8)" stroke="#b5b5b5" strokeWidth={1.2} style={{ whiteSpace: 'pre' }}>
        知乎 @深圳市易基因科技
      </text>
    </svg>
  );
}

export default function App() {
  return (
    <div style={{ position: 'absolute', left: 0, top: 0, width: 1440, height: 1809, background: '#fff', overflow: 'hidden', fontFamily: FONT }}>
      <PanelA />
      <PanelB />
      <PanelD />
      <PanelC />
      <PanelE />
      <PanelF />
      <Overlay />
    </div>
  );
}
